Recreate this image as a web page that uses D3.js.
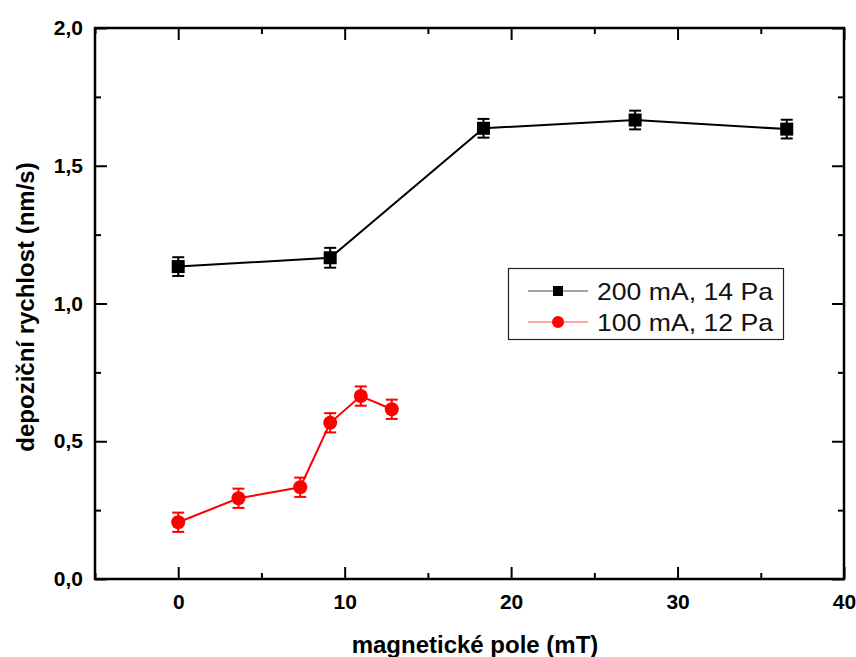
<!DOCTYPE html>
<html>
<head>
<meta charset="utf-8">
<script src="https://cdn.jsdelivr.net/npm/d3@7"></script>
<style>
  html, body { margin: 0; padding: 0; background: #fff; }
  svg { display: block; }
  text { font-family: "Liberation Sans", Arial, sans-serif; }
</style>
</head>
<body>
<svg id="chart" width="856" height="657"></svg>
<script>
// ---- data ----
const seriesNames = ["200 mA, 14 Pa", "100 mA, 12 Pa"];
const seriesColors = ["#000000", "#ff0000"];
const blackX = [0, 9.13, 18.34, 27.45, 36.56];
const blackY = [1.134, 1.166, 1.636, 1.666, 1.633];
const blackErr = [0.034, 0.036, 0.034, 0.034, 0.034];
const redX = [0, 3.62, 7.33, 9.13, 10.97, 12.83];
const redY = [0.206, 0.293, 0.333, 0.567, 0.664, 0.616];
const redErr = [0.035, 0.035, 0.035, 0.035, 0.035, 0.035];
const xTicks = [0, 10, 20, 30, 40];
const xMinorTicks = [-5, 5, 15, 25, 35];
const yTicks = [0, 0.5, 1.0, 1.5, 2.0];
const yMinorTicks = [0.25, 0.75, 1.25, 1.75];
const xTitle = "magnetické pole (mT)";
const yTitle = "depoziční rychlost (nm/s)";

// ---- layout ----
const svg = d3.select("#chart");
const L = 95, R = 844, T = 28, B = 579;
const x = d3.scaleLinear().domain([-5, 40]).range([L, R]);
const y = d3.scaleLinear().domain([0, 2.0]).range([B, T]);
const fmtY = d => d3.format(".1f")(d).replace(".", ",");

const major = 12, minor = 6;
const axisStyle = g => {
  g.select(".domain").remove();
  g.selectAll(".tick line").attr("stroke", "#000").attr("stroke-width", 2);
  g.selectAll(".tick text").attr("font-size", 21).attr("font-weight", "bold").attr("fill", "#000");
};

// bottom
svg.append("g").attr("transform", `translate(0,${B})`)
  .call(d3.axisBottom(x).tickValues(xTicks).tickSize(-major).tickPadding(15).tickFormat(d3.format("d")))
  .call(axisStyle);
svg.append("g").attr("transform", `translate(0,${B})`)
  .call(d3.axisBottom(x).tickValues(xMinorTicks).tickSize(-minor).tickFormat(""))
  .call(axisStyle);
// top
svg.append("g").attr("transform", `translate(0,${T})`)
  .call(d3.axisTop(x).tickValues(xTicks).tickSize(-major).tickFormat(""))
  .call(axisStyle);
svg.append("g").attr("transform", `translate(0,${T})`)
  .call(d3.axisTop(x).tickValues(xMinorTicks).tickSize(-minor).tickFormat(""))
  .call(axisStyle);
// left
svg.append("g").attr("transform", `translate(${L},0)`)
  .call(d3.axisLeft(y).tickValues(yTicks).tickSize(-major).tickPadding(12).tickFormat(fmtY))
  .call(axisStyle);
svg.append("g").attr("transform", `translate(${L},0)`)
  .call(d3.axisLeft(y).tickValues(yMinorTicks).tickSize(-minor).tickFormat(""))
  .call(axisStyle);
// right
svg.append("g").attr("transform", `translate(${R},0)`)
  .call(d3.axisRight(y).tickValues(yTicks).tickSize(-major).tickFormat(""))
  .call(axisStyle);
svg.append("g").attr("transform", `translate(${R},0)`)
  .call(d3.axisRight(y).tickValues(yMinorTicks).tickSize(-minor).tickFormat(""))
  .call(axisStyle);

// frame
svg.append("rect").attr("x", L).attr("y", T).attr("width", R - L).attr("height", B - T)
  .attr("fill", "none").attr("stroke", "#000").attr("stroke-width", 2.5);

// titles
svg.append("text").attr("x", 475).attr("y", 653).attr("text-anchor", "middle")
  .attr("font-size", 24).attr("font-weight", "bold").attr("fill", "#000").text(xTitle);
svg.append("text").attr("transform", `translate(34,307) rotate(-90)`)
  .attr("text-anchor", "middle").attr("font-size", 24).attr("font-weight", "bold")
  .attr("fill", "#000").text(yTitle);

// ---- series ----
const series = [
  { name: seriesNames[0], color: seriesColors[0], xs: blackX, ys: blackY, es: blackErr, shape: "square" },
  { name: seriesNames[1], color: seriesColors[1], xs: redX, ys: redY, es: redErr, shape: "circle" }
];

const line = d3.line().x(d => x(d.x)).y(d => y(d.y));
series.forEach(s => {
  const pts = s.xs.map((v, i) => ({ x: v, y: s.ys[i], e: s.es[i] }));
  const g = svg.append("g");
  g.append("path").datum(pts).attr("d", line).attr("fill", "none")
    .attr("stroke", s.color).attr("stroke-width", 2);
  const eb = g.selectAll(".eb").data(pts).enter().append("g");
  eb.append("line").attr("x1", d => x(d.x)).attr("x2", d => x(d.x))
    .attr("y1", d => y(d.y - d.e)).attr("y2", d => y(d.y + d.e))
    .attr("stroke", s.color).attr("stroke-width", 2);
  [-1, 1].forEach(sg => {
    eb.append("line").attr("x1", d => x(d.x) - 6).attr("x2", d => x(d.x) + 6)
      .attr("y1", d => y(d.y + sg * d.e)).attr("y2", d => y(d.y + sg * d.e))
      .attr("stroke", s.color).attr("stroke-width", 2);
  });
  if (s.shape === "square") {
    g.selectAll(".m").data(pts).enter().append("rect")
      .attr("x", d => x(d.x) - 6.5).attr("y", d => y(d.y) - 6.5)
      .attr("width", 13).attr("height", 13).attr("fill", s.color);
  } else {
    g.selectAll(".m").data(pts).enter().append("circle")
      .attr("cx", d => x(d.x)).attr("cy", d => y(d.y)).attr("r", 7).attr("fill", s.color);
  }
});

// ---- legend ----
const lg = svg.append("g");
lg.append("rect").attr("x", 508.5).attr("y", 268.5).attr("width", 275).attr("height", 71)
  .attr("fill", "#fff").attr("stroke", "#222").attr("stroke-width", 1.2);
series.forEach((s, i) => {
  const cy = 291 + i * 31;
  lg.append("line").attr("x1", 528).attr("x2", 588).attr("y1", cy).attr("y2", cy)
    .attr("stroke", s.color).attr("stroke-width", 1).attr("opacity", 0.7);
  if (s.shape === "square") {
    lg.append("rect").attr("x", 553).attr("y", cy - 5).attr("width", 10).attr("height", 10).attr("fill", s.color);
  } else {
    lg.append("circle").attr("cx", 558).attr("cy", cy).attr("r", 6).attr("fill", s.color);
  }
  lg.append("text").attr("x", 597).attr("y", cy + 8.5).attr("font-size", 24)
    .attr("textLength", 176).attr("lengthAdjust", "spacingAndGlyphs")
    .attr("fill", "#111").text(s.name);
});
</script>
</body>
</html>
